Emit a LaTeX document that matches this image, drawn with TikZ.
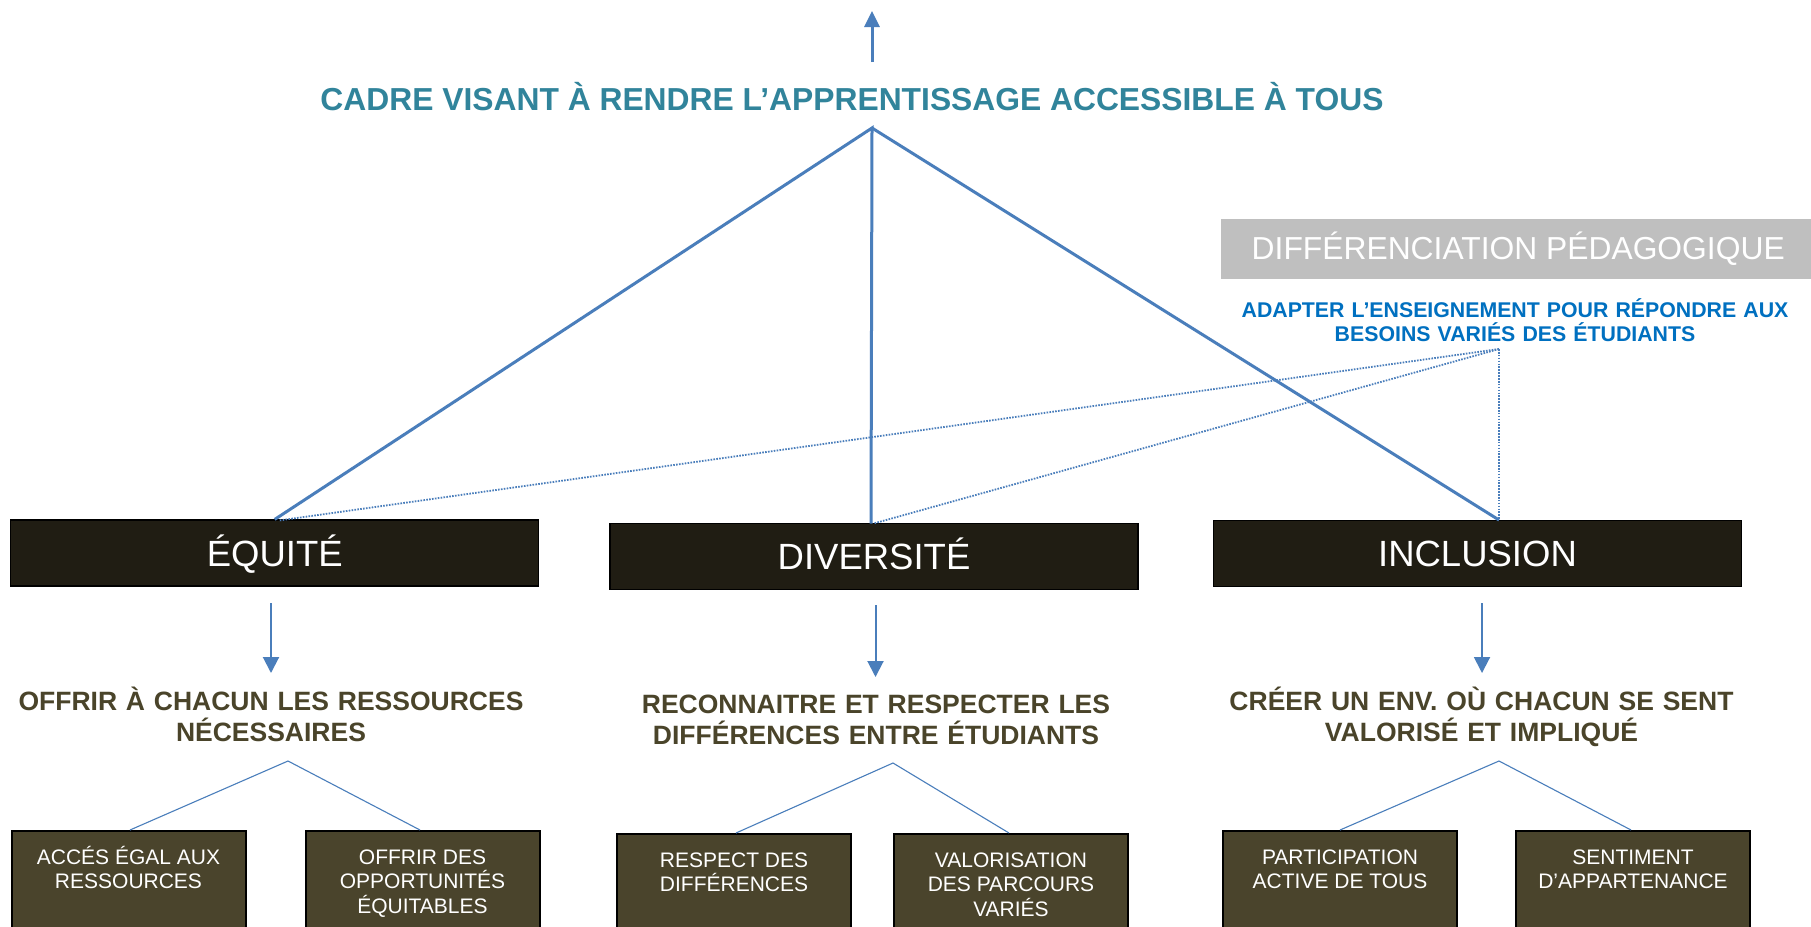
\documentclass[tikz,border=0pt]{standalone}
\usepackage{fontspec}
\setmainfont{Liberation Sans}
\usetikzlibrary{arrows.meta}
\definecolor{lineblue}{HTML}{4A7EBB}
\definecolor{titleteal}{HTML}{31849B}
\definecolor{darkbox}{HTML}{201D13}
\definecolor{olivebox}{HTML}{4A442C}
\definecolor{olivetext}{HTML}{4A442A}
\definecolor{greybox}{HTML}{BFBFBF}
\definecolor{adaptblue}{HTML}{0070C0}
\tikzset{
  mainline/.style={draw=lineblue, line width=3pt},
  dotline/.style={draw=lineblue, line width=1.8pt, dash pattern=on 1.6pt off 1.3pt},
  downarrow/.style={draw=lineblue, line width=2pt, -{Triangle[length=16pt,width=16pt]}},
  uparrow/.style={draw=lineblue, line width=3pt, -{Triangle[length=16pt,width=15pt]}},
  treeline/.style={draw=lineblue, line width=1.1pt},
  topbox/.style={fill=darkbox, draw=black, line width=1.2pt, minimum width=528pt,
    minimum height=66pt, inner sep=0pt, text=white,
    font=\fontsize{36.5}{40}\selectfont, text height=26pt, text depth=0pt},
  greylabel/.style={fill=greybox, minimum width=594pt, minimum height=60pt, inner sep=0pt,
    text=white, font=\fontsize{31.8}{36}\selectfont, text height=22.8pt, text depth=0pt},
  lowbox/.style={fill=olivebox, draw=black, line width=2pt, inner sep=0pt, text=white,
    font=\fontsize{21}{24.5}\selectfont, anchor=north west},
  subtitle/.style={text=olivetext, font=\bfseries\fontsize{26.5}{31}\selectfont,
    text width=600pt, align=center, inner sep=0pt, anchor=base},
  adapttext/.style={text=adaptblue, font=\bfseries\fontsize{21.3}{24.5}\selectfont,
    text width=600pt, align=center, inner sep=0pt, anchor=base},
  titletext/.style={text=titleteal, font=\bfseries\fontsize{31.8}{36}\selectfont,
    inner sep=0pt, anchor=base}
}
\newcommand{\lowtext}[1]{\parbox[t][110pt][t]{234pt}{\centering\rule{0pt}{33pt}#1}}
\begin{document}
\begin{tikzpicture}[x=1pt,y=-1pt]
\clip (0,0) rectangle (1811,926);
\fill[white] (0,0) rectangle (1811,926);

% title and top arrow
\node[titletext] (title) at (852,110) {CADRE VISANT À RENDRE L’APPRENTISSAGE ACCESSIBLE À TOUS};
\coordinate (upbase) at (872,62);
\coordinate (uptip) at (872,11);
\draw[uparrow] (upbase) -- (uptip);

% differenciation
\node[greylabel, anchor=west] (diff) at (1221,248.5) {DIFFÉRENCIATION PÉDAGOGIQUE};
\node[adapttext] (adapt) at (1515,317) {ADAPTER L’ENSEIGNEMENT POUR RÉPONDRE AUX\\BESOINS VARIÉS DES ÉTUDIANTS};

% top boxes
\node[topbox] (equite) at (274.75,553) {ÉQUITÉ};
\node[topbox] (diversite) at (874,556.5) {DIVERSITÉ};
\node[topbox] (inclusion) at (1477.5,553.5) {INCLUSION};

% main lines
\coordinate (apex) at (872,128);
\coordinate (divtop) at (871,523.5);
\coordinate (inctop) at (1499,520);
\draw[mainline, line join=miter] (equite.north) -- (apex) -- (divtop);
\draw[mainline] (apex) -- (inctop);

% dotted lines
\coordinate (dotapex) at (1499,349);
\coordinate (eqdot) at (279,520.5);
\coordinate (divdot) at (873.6,523.5);
\draw[dotline] (dotapex) -- (eqdot);
\draw[dotline] (dotapex) -- (divdot);
\draw[dotline] (dotapex) -- (inctop);

% down arrows
\coordinate (ea1) at (271,603); \coordinate (ea2) at (271,673);
\coordinate (da1) at (875.5,605); \coordinate (da2) at (875.5,677);
\coordinate (ia1) at (1482,603); \coordinate (ia2) at (1482,673);
\draw[downarrow] (ea1) -- (ea2);
\draw[downarrow] (da1) -- (da2);
\draw[downarrow] (ia1) -- (ia2);

% subtitles
\node[subtitle] (eqsub) at (271,710.7) {OFFRIR À CHACUN LES RESSOURCES\\NÉCESSAIRES};
\node[subtitle] (divsub) at (876,713) {RECONNAITRE ET RESPECTER LES\\DIFFÉRENCES ENTRE ÉTUDIANTS};
\node[subtitle] (incsub) at (1481.5,710) {CRÉER UN ENV. OÙ CHACUN SE SENT\\VALORISÉ ET IMPLIQUÉ};

% bottom boxes
\node[lowbox] (a1) at (10.5,830) {\lowtext{ACCÉS ÉGAL AUX\\RESSOURCES}};
\node[lowbox] (a2) at (304.5,830) {\lowtext{OFFRIR DES\\OPPORTUNITÉS\\ÉQUITABLES}};
\node[lowbox] (b1) at (616,833) {\lowtext{RESPECT DES\\DIFFÉRENCES}};
\node[lowbox] (b2) at (893,833) {\lowtext{VALORISATION\\DES PARCOURS\\VARIÉS}};
\node[lowbox] (c1) at (1222,830) {\lowtext{PARTICIPATION\\ACTIVE DE TOUS}};
\node[lowbox] (c2) at (1515,830) {\lowtext{SENTIMENT\\D’APPARTENANCE}};

% small trees
\coordinate (et) at (288,761); \coordinate (etl) at (130,830); \coordinate (etr) at (420,830);
\coordinate (dt) at (893,763); \coordinate (dtl) at (736,833); \coordinate (dtr) at (1009,833);
\coordinate (it) at (1499,761); \coordinate (itl) at (1340,830); \coordinate (itr) at (1631,830);
\draw[treeline] (etl) -- (et) -- (etr);
\draw[treeline] (dtl) -- (dt) -- (dtr);
\draw[treeline] (itl) -- (it) -- (itr);
\end{tikzpicture}
\end{document}
